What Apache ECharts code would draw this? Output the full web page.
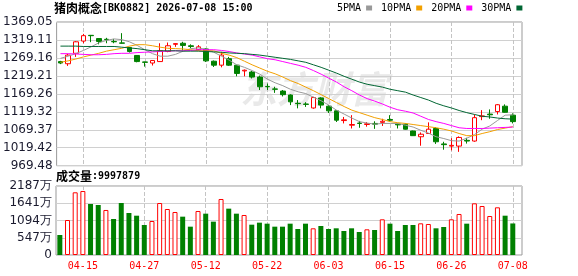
<!DOCTYPE html>
<html><head><meta charset="utf-8">
<script src="https://cdn.jsdelivr.net/npm/echarts@6/dist/echarts.min.js"></script>
<style>html,body{margin:0;padding:0;background:#fff}#c{width:578px;height:276px}</style>
</head><body><div id="c"></div>
<script>
// ---- data ----
const boardName = '猪肉概念';
const boardCode = '[BK0882]';
const stamp = '2026-07-08 15:00';
const volCaption = '成交量';
const lastVolume = '9997879';
const dates = ['04-10','04-13','04-14','04-15','04-16','04-17','04-20','04-21','04-22','04-23',
  '04-24','04-27','04-28','04-29','04-30','05-06','05-07','05-08','05-11','05-12',
  '05-13','05-14','05-15','05-18','05-19','05-20','05-21','05-22','05-25','05-26',
  '05-27','05-28','05-29','06-01','06-02','06-03','06-04','06-05','06-08','06-09',
  '06-10','06-11','06-12','06-15','06-16','06-17','06-18','06-22','06-23','06-24',
  '06-25','06-26','06-29','06-30','07-01','07-02','07-03','07-06','07-07','07-08'];
const opens = [1259,1253,1282,1316,1332,1323,1321,1315,1311,1298,
  1276,1258,1255,1259,1287,1307,1310,1303,1292,1294,
  1260,1249,1267,1249,1233,1230,1216,1190,1183,1177,
  1166,1143,1141,1130,1158,1135,1122,1095,1082,1088,
  1084,1087,1090,1098,1085,1085,1066,1050,1059,1073,
  1030,1024,1024,1040,1038,1106,1113,1120,1135,1110];
const closes = [1255,1277,1314,1331,1331,1315,1320,1314,1310,1287,
  1259,1257,1262,1289,1303,1309,1304,1301,1300,1261,
  1249,1277,1249,1226,1235,1216,1189,1189,1182,1167,
  1147,1142,1140,1159,1138,1122,1096,1097,1084,1087,
  1086,1085,1093,1096,1083,1071,1053,1057,1071,1036,
  1028,1026,1048,1038,1103,1108,1111,1139,1118,1092];
const lows = [1252,1247,1272,1310,1313,1307,1310,1310,1309,1284,
  1257,1245,1248,1258,1285,1300,1290,1296,1290,1258,
  1244,1243,1247,1218,1218,1212,1180,1180,1172,1162,
  1138,1129,1133,1128,1129,1116,1091,1087,1073,1075,
  1078,1072,1080,1093,1073,1070,1052,1025,1059,1030,
  1014,1012,1008,1031,1036,1096,1100,1112,1117,1087];
const highs = [1261,1280,1316,1336,1333,1324,1325,1322,1338,1300,
  1277,1258.5,1263,1310,1312,1310,1314,1307,1305,1296,
  1262,1286,1272,1250,1237,1233,1220,1198,1189,1180,
  1168,1152,1146,1161,1160,1138,1124,1105,1110,1094,
  1091,1093,1100,1110,1087,1087,1067,1062,1090,1077,
  1036,1046,1051,1047,1112,1124,1126,1141,1140,1115];
const volumes = [634,1109,1987,2029,1617,1585,1427,1141,1648,1331,
  1246,951,1078,1648,1458,1363,1215,898,1395,1310,
  1057,1775,1469,1310,1268,961,1025,993,898,898,
  993,824,993,846,919,824,846,761,846,729,
  814,793,1131,993,761,951,951,1004,983,846,
  888,1131,1300,993,1638,1553,1236,1511,1246,999.8];
const volUp = [0,1,1,1,0,0,1,0,0,0, 0,0,1,1,1,1,0,0,1,0,
  0,1,0,0,1,0,0,0,0,0, 0,0,0,1,0,0,0,0,0,0,
  1,0,1,0,0,0,0,1,1,0, 0,1,1,0,1,1,1,1,0,0];
const ma5 = [1268,1274,1281,1290,1300,1311,1318,1322,1320,1314,
  1304,1292,1281,1274,1274,1279,1288,1295,1297,1293,
  1285,1274,1263,1250,1243,1234,1224,1210,1200,1192,
  1182,1175,1170,1160,1150,1138,1124,1113,1102,1092,
  1088,1085,1087,1087,1087,1082,1077,1068,1060,1050,
  1045,1039,1038,1046,1056,1071,1080,1095,1110,1111];
const ma10 = [1257,1261,1266,1272,1277,1282,1288,1292,1296,1302,
  1306,1306,1303,1299,1296,1295,1294,1292,1289,1289,
  1289,1282,1277,1270,1260,1250,1241,1232,1225,1216,
  1206,1198,1188,1178,1167,1156,1145,1134,1124,1117,
  1110,1103,1098,1092,1089,1087,1084,1081,1078,1075,
  1071,1066,1059,1053,1053,1059,1064,1070,1074,1078];
const ma20 = [1281,1281,1280,1279,1278,1278,1279,1281,1282,1282,
  1284,1285,1286,1287,1288,1289,1289,1290,1292,1292,
  1292,1290,1287,1283,1280,1277,1272,1267,1264,1259,
  1254,1249,1243,1234,1224,1213,1202,1189,1178,1166,
  1156,1149,1141,1132,1125,1121,1116,1107,1098,1092,
  1087,1081,1075,1073,1073,1073,1074,1075,1076,1077];
const ma30 = [1302,1302,1302,1301,1301,1301,1301,1301,1299,1297,
  1295,1292,1289,1289,1289,1289,1288,1288,1288,1287,
  1286,1285,1283,1282,1281,1279,1277,1274,1271,1268,
  1265,1261,1257,1250,1243,1235,1227,1218,1210,1202,
  1196,1192,1188,1182,1178,1174,1166,1159,1152,1143,
  1136,1130,1123,1117,1112,1107,1105,1102,1100,1099];
const labelIdx = [3,11,19,27,35,43,51,59];
const priceTicks = ['969.48','1019.42','1069.37','1119.32','1169.26','1219.21','1269.16','1319.11','1369.05'];
const volTicks = ['0','547万','1094万','1641万','2187万'];
const maNames = ['5PMA','10PMA','20PMA','30PMA'];

// ---- chart ----
const RED = '#ff0000', GREEN = '#008000';
const maColors = ['#999999','#f2a000','#ff00ff','#006633'];
const pMin = Number(priceTicks[0]), pMax = Number(priceTicks[priceTicks.length-1]);
const pInt = (pMax - pMin) / (priceTicks.length - 1);
const vMax = parseFloat(volTicks[volTicks.length-1]);
const vInt = vMax / (volTicks.length - 1);
const X_MIN = -0.5, X_MAX = 60.2;
const idx = dates.map((d, i) => i);
const LAYER = 1; // guides and marks on their own canvas layer

// label/guide axis: one unit per labelled step, same pixel mapping as the data axis
const gStart = labelIdx[0], gStep = labelIdx[1] - labelIdx[0];
const G_MIN = (X_MIN - gStart) / gStep, G_MAX = (X_MAX - gStart) / gStep;

const candleData = idx.map(i => [i, opens[i], closes[i], lows[i], highs[i]]);
const volData = idx.map(i => ({
  value: [i, volumes[i]],
  itemStyle: volUp[i] ? {color:'#ffffff', borderColor:RED, borderWidth:1}
                      : {color:GREEN, borderColor:GREEN, borderWidth:0}
}));
const maArrs = [ma5, ma10, ma20, ma30];

function dataXAxis(gi) {
  return {type:'value', gridIndex:gi, position:'top', min:X_MIN, max:X_MAX,
    axisLine:{show:false}, axisTick:{show:false}, splitLine:{show:false}, axisLabel:{show:false}};
}
function guideXAxis(gi, showLabel) {
  return {type:'value', gridIndex:gi, position:'bottom', min:G_MIN, max:G_MAX,
    minInterval:1, maxInterval:1, zlevel:LAYER, z:0,
    axisLine:{show:false}, axisTick:{show:false},
    splitLine:{show:true, showMinLine:false, showMaxLine:false, lineStyle:{color:'#c4c4c4', type:'dashed', dashOffset:0, width:1}},
    axisLabel:{show:showLabel, showMinLabel:false, showMaxLabel:false,
      formatter:u => { const k = Math.round(u); return Math.abs(u - k) < 1e-6 ? (dates[labelIdx[k]] || '') : ''; },
      color:RED, fontFamily:'DejaVu Sans Mono', fontSize:10, margin:6}};
}

const chart = echarts.init(document.getElementById('c'), null, {renderer:'canvas', width:578, height:276});
chart.setOption({
  animation:false,
  title:[
    {text:'{cn|' + boardName + '}{en|' + boardCode + ' ' + stamp + '}', left:54, top:2, padding:0,
     textStyle:{rich:{cn:{fontFamily:'Noto Sans CJK SC', fontSize:12, color:'#000'},
                      en:{fontFamily:'DejaVu Sans Mono', fontSize:10, color:'#000'}}}},
    {text:'{cn|' + volCaption + '}{en|:' + lastVolume + '}', left:56, top:170, padding:0,
     textStyle:{rich:{cn:{fontFamily:'Noto Sans CJK SC', fontSize:12, color:'#000'},
                      en:{fontFamily:'DejaVu Sans Mono', fontSize:10, color:'#000'}}}}
  ],
  legend:{data:maNames.map(n => ({name:n, icon:'rect'})), left:337, top:3, padding:0, itemWidth:6, itemHeight:5, itemGap:9, align:'right',
    selectedMode:false,
    textStyle:{fontFamily:'DejaVu Sans Mono', fontSize:10, color:'#000'}},
  graphic:[{type:'text', left:240, top:70, z:-10, silent:true,
    style:{text:'东方财富', fontFamily:'Noto Sans CJK SC', fontSize:37, fontWeight:'bold', fontStyle:'italic', fill:'#e9e9e9'}}],
  grid:[
    {left:56, top:22, width:466, height:143.7, show:true, borderColor:'#999999', borderWidth:1},
    {left:56, top:186, width:466, height:69, show:true, borderColor:'#999999', borderWidth:1}
  ],
  xAxis:[dataXAxis(0), dataXAxis(1), guideXAxis(0, false), guideXAxis(1, true)],
  yAxis:[
    {type:'value', gridIndex:0, min:pMin, max:pMax, interval:pInt,
     axisLine:{show:false}, axisTick:{show:false},
     splitLine:{lineStyle:{color:'#d0d0d0', width:1}},
     axisLabel:{formatter:v => priceTicks[Math.round((v - pMin) / pInt)] || '', color:'#1a1a2e',
       fontFamily:'DejaVu Sans', fontSize:12, margin:4}},
    {type:'value', gridIndex:1, min:0, max:vMax, interval:vInt,
     axisLine:{show:false}, axisTick:{show:false},
     splitLine:{lineStyle:{color:'#d0d0d0', width:1}},
     axisLabel:{formatter:v => volTicks[Math.round(v / vInt)] || '', color:'#1a1a2e',
       fontFamily:'DejaVu Sans', fontSize:12, margin:4}}
  ],
  series:[
    {type:'candlestick', xAxisIndex:0, yAxisIndex:0, data:candleData, barWidth:5, zlevel:LAYER, z:2, silent:true,
     itemStyle:{color:'#ffffff', color0:GREEN, borderColor:RED, borderColor0:GREEN, borderWidth:1}},
    {type:'bar', xAxisIndex:1, yAxisIndex:1, data:volData, barWidth:5, silent:true, zlevel:LAYER, z:2}
  ].concat(maNames.map((n, k) => ({
    type:'line', name:n, xAxisIndex:0, yAxisIndex:0, data:idx.map(i => [i, maArrs[k][i]]),
    showSymbol:false, symbol:'none', color:maColors[k], silent:true, zlevel:LAYER, z:3,
    lineStyle:{width:1, color:maColors[k]}
  })))
});
</script>
</body></html>
